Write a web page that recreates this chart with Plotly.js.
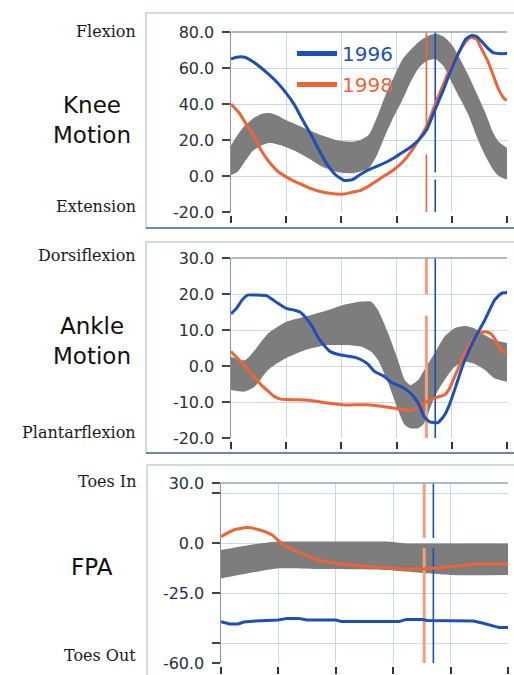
<!DOCTYPE html>
<html><head><meta charset="utf-8">
<script src="https://cdn.plot.ly/plotly-3.0.1.min.js"></script>
<style>html,body{margin:0;padding:0;background:#fff;}#chart{width:514px;height:675px;}</style>
</head><body><div id="chart"></div>
<script>
// ---------------- DATA (percent of gait cycle vs. degrees) ----------------
const years = ['1996', '1998'];
const xTicks = [0, 20, 40, 60, 80, 100];
const xGrid = [20, 40, 60, 80];

// Knee
const kneeRange = [-20, 80];
const kneeTicks = [-20, 0, 20, 40, 60, 80];
const kneeTickText = ['-20.0', '0.0', '20.0', '40.0', '60.0', '80.0'];
const kneeGrid = [0, 20, 40, 60];
const kneeBlueX = [0, 2, 5, 8, 11, 14, 17, 20, 23, 26, 29, 32, 35, 38, 41, 44, 47, 50, 53, 56, 59, 62, 65, 68, 71, 74, 77, 80, 83, 85, 87, 89, 91, 93, 95, 97, 100];
const kneeBlueY = [65, 66, 66, 63.5, 60, 56, 51.5, 46, 39.5, 31, 23, 14, 6, 0.5, -2.5, -2, 1, 3.5, 5.5, 7.5, 10, 13, 16, 20, 26, 37, 48, 60, 70, 76, 78, 77.5, 74.5, 71, 68.5, 68, 68];
const kneeOrangeX = [0, 3, 5, 8, 11, 14, 17, 20, 23, 26, 29, 32, 35, 38, 41, 44, 47, 50, 53, 56, 59, 62, 65, 68, 71, 74, 77, 80, 83, 85, 87, 89, 91, 93, 95, 97, 99, 100];
const kneeOrangeY = [40, 35, 30, 23, 14, 7.5, 2.5, -0.5, -3, -5, -7, -8.5, -9.5, -10, -10, -9, -8, -5.5, -2.5, 0.5, 3.5, 7.5, 13, 20, 28, 40, 51, 62, 70, 74.5, 77, 76, 70, 64, 56, 48, 43, 42];
const kneeBandX = [0, 2.5, 5, 8, 11, 14, 17, 20, 23, 26, 29, 32, 35, 38, 41, 44, 47, 50, 53, 56, 59, 62, 65, 68, 71, 74, 77, 80, 83, 86, 89, 92, 95, 97, 100];
const kneeBandLo = [0.5, 2.5, 8, 14, 17, 18.3, 17.5, 16, 14, 11.7, 9, 6, 4, 2.4, 1.7, 1.5, 2.5, 4.4, 12, 23, 33, 42, 52, 60, 64, 65, 61, 52, 43, 34, 22, 11.7, 3.5, 0, -2];
const kneeBandHi = [17, 23, 28, 32, 34.5, 35, 33.5, 31, 29, 27, 25, 23, 21.5, 20, 19.3, 19, 20, 23, 33, 45, 55, 64.5, 70, 74.5, 77.5, 79, 77.5, 73, 65, 56, 46, 35.7, 24, 19, 15.5];
const kneeGap1996 = [-2, 2];
const kneeGap1998 = [12, 26];

// Ankle
const ankleRange = [-20, 30];
const ankleTicks = [-20, -10, 0, 10, 20, 30];
const ankleTickText = ['-20.0', '-10.0', '0.0', '10.0', '20.0', '30.0'];
const ankleGrid = [-10, 0, 10, 20];
const ankleBlueX = [0, 2, 4, 6, 9, 13, 15, 17, 20, 23, 25, 27, 29, 31.5, 34, 36, 39, 42, 45, 47, 49.6, 52, 55.7, 58, 61.6, 65, 67.8, 70, 72, 75, 77.4, 79, 81, 83, 84.7, 88, 92, 95.5, 98, 100];
const ankleBlueY = [14.5, 16, 18.3, 19.7, 19.7, 19.5, 18.5, 17.4, 16, 15.5, 15, 13.5, 11.5, 8, 5.5, 4, 3.2, 2.8, 2.4, 1.8, 0.5, -1.5, -3, -4.5, -5.7, -7.5, -10.3, -14, -15.5, -15.7, -13.6, -11, -6.7, -2, 1.6, 7.2, 12.8, 18.3, 20.2, 20.4];
const ankleOrangeX = [0, 2.5, 5, 8, 11, 13.5, 15.8, 18, 20, 25, 29, 35, 41, 50.7, 55.7, 61.6, 65, 67, 69, 72, 75, 77.4, 79, 81, 83, 84.7, 88, 90, 92, 94, 95.5, 98, 100];
const ankleOrangeY = [4, 2, 0, -2.7, -5.3, -7, -8.5, -9.2, -9.3, -9.4, -9.6, -10.3, -10.8, -10.8, -11.3, -12, -12.3, -11.8, -10.8, -9.4, -8.6, -8, -6.5, -3, 0.5, 3.6, 7.7, 9, 9.5, 9, 7.7, 4.4, 3.6];
const ankleBandX = [0, 5, 8.6, 13.4, 20, 26.7, 35, 41, 47, 50.7, 53.3, 57, 60.5, 63, 65, 67.8, 70, 73.8, 77.4, 81, 84.7, 88, 92, 95.5, 100];
const ankleBandLo = [-6.7, -7.1, -5.7, -1.1, 2.2, 4.4, 5.8, 5.8, 5.4, 4, 1.6, -4.8, -12.2, -16.4, -17.3, -17.3, -15.9, -8.5, -3.9, -0.2, 1.2, 0.7, -1.1, -3.4, -4.4];
const ankleBandHi = [2.6, 1.6, 4.4, 9, 12.3, 13.7, 15.5, 17, 17.9, 17.9, 15.5, 9, 1.6, -3.9, -5.3, -3.9, -1.1, 3.6, 8.2, 10.5, 11.1, 10.5, 8.6, 7.2, 6.4];
const ankleGap1998 = [14, 20];

// Foot progression angle
const fpaRange = [-60, 30];
const fpaTicks = [-60, -50, -25, 0, 25, 30];
const fpaTickText = ['-60.0', '', '-25.0', '0.0', '', '30.0'];
const fpaGrid = [-50, -25, 0, 25];
const fpaBlueX = [0, 3, 6, 8, 12, 20, 23, 27, 30, 40, 42, 62, 64.6, 70, 72, 88, 91, 94, 97, 100];
const fpaBlueY = [-39.3, -40.5, -40.5, -39.5, -39, -38.5, -37.7, -37.7, -38.5, -38.5, -39.3, -39.3, -38.2, -38.3, -38.8, -39, -40, -41.3, -42.3, -42.3];
const fpaOrangeX = [0, 4.4, 9, 13.6, 17.8, 21.9, 27.7, 33.6, 39.4, 45, 51, 59, 68.5, 75, 80, 89.5, 100];
const fpaOrangeY = [3.2, 6.5, 7.7, 6.5, 4, -1, -5, -8.5, -10, -11, -11.8, -12.7, -13, -12.5, -11.8, -10.5, -10.5];
const fpaBandX = [0, 10, 19.6, 33.6, 57.6, 64.6, 80, 100];
const fpaBandLo = [-17.7, -15, -12.7, -13, -13.5, -14.3, -16, -16];
const fpaBandHi = [-3.5, -1, 0.7, 0.7, 0.7, -0.2, -0.2, -0.2];
const fpaGap = [-2.5, 2.5];

// toe-off (% gait cycle)
const toeOff1996 = 74;
const toeOff1998 = 70.8;

// ---------------- STYLE ----------------
const BLUE = '#1d4fb8', ORANGE = '#ee6434', ORANGE_PALE = '#f2a07f', GRAY = '#7d7d7d';
const GRID = '#c8dae7', AXIS = '#8198aa';
const W = 514, H = 675;
const px = v => v / W, py = v => 1 - v / H;

function band(x, lo, hi, n) {
  const xa = 'x' + (n === 1 ? '' : n), ya = 'y' + (n === 1 ? '' : n);
  return [
    {x: x, y: lo, mode: 'lines', line: {width: 0, shape: 'spline', smoothing: 0.6}, xaxis: xa, yaxis: ya, showlegend: false, hoverinfo: 'skip'},
    {x: x, y: hi, mode: 'lines', fill: 'tonexty', fillcolor: GRAY, line: {width: 0, shape: 'spline', smoothing: 0.6}, xaxis: xa, yaxis: ya, showlegend: false, hoverinfo: 'skip'}
  ];
}
function curve(x, y, color, n, shape) {
  const xa = 'x' + (n === 1 ? '' : n), ya = 'y' + (n === 1 ? '' : n);
  return {x: x, y: y, mode: 'lines', line: {color: color, width: 3, shape: shape || 'spline', smoothing: 0.5}, xaxis: xa, yaxis: ya, showlegend: false, hoverinfo: 'skip'};
}
function vline(t, range, gap, color, width, n) {
  const xa = 'x' + (n === 1 ? '' : n), ya = 'y' + (n === 1 ? '' : n);
  const xs = gap ? [t, t, null, t, t] : [t, t];
  const ys = gap ? [range[1], gap[1], null, gap[0], range[0]] : [range[1], range[0]];
  return {x: xs, y: ys, mode: 'lines', line: {color: color, width: width}, xaxis: xa, yaxis: ya, showlegend: false, hoverinfo: 'skip', connectgaps: false};
}

const data = [].concat(
  band(kneeBandX, kneeBandLo, kneeBandHi, 1),
  [vline(toeOff1998, kneeRange, kneeGap1998, ORANGE, 1.6, 1), vline(toeOff1996, kneeRange, kneeGap1996, BLUE, 1.6, 1)],
  [curve(kneeOrangeX, kneeOrangeY, ORANGE, 1), curve(kneeBlueX, kneeBlueY, BLUE, 1)],
  band(ankleBandX, ankleBandLo, ankleBandHi, 2),
  [vline(toeOff1998, ankleRange, ankleGap1998, ORANGE_PALE, 3, 2), vline(toeOff1996, ankleRange, null, BLUE, 1.6, 2)],
  [curve(ankleOrangeX, ankleOrangeY, ORANGE, 2), curve(ankleBlueX, ankleBlueY, BLUE, 2)],
  band(fpaBandX, fpaBandLo, fpaBandHi, 3),
  [vline(toeOff1998, fpaRange, fpaGap, ORANGE_PALE, 3, 3), vline(toeOff1996, fpaRange, fpaGap, BLUE, 1.6, 3)],
  [curve(fpaOrangeX, fpaOrangeY, ORANGE, 3), curve(fpaBlueX, fpaBlueY, BLUE, 3, 'linear')],
  // legend entries (no data points, legend only)
  [
    {x: [null], y: [null], mode: 'lines', name: '<span style="color:' + BLUE + '">' + years[0] + '</span>', line: {color: BLUE, width: 5}, xaxis: 'x', yaxis: 'y', legendgroup: 'a', showlegend: true},
    {x: [null], y: [null], mode: 'lines', name: '<span style="color:' + ORANGE + '">' + years[1] + '</span>', line: {color: ORANGE, width: 5}, xaxis: 'x', yaxis: 'y', legendgroup: 'b', showlegend: true}
  ]
);

const tickFont = {family: 'DejaVu Sans', size: 16, color: '#25313b'};
function xAxis(domain, pos) {
  return {domain: domain, anchor: 'free', position: pos, range: [0, 100], tickmode: 'array', tickvals: xTicks,
    showticklabels: false, ticks: 'outside', ticklen: 7, tickwidth: 2, tickcolor: '#333',
    showgrid: false, zeroline: false, showline: false, fixedrange: true,
    minor: {tickmode: 'array', tickvals: xGrid, showgrid: true, gridcolor: GRID, gridwidth: 1, ticks: ''}};
}
function yAxis(domain, anchor, range, tv, tt, grid) {
  return {domain: domain, anchor: anchor, range: range, tickmode: 'array', tickvals: tv, ticktext: tt,
    ticks: 'outside', ticklen: 8, tickwidth: 1.5, tickcolor: '#444', ticklabelstandoff: 4,
    showline: true, linecolor: AXIS, linewidth: 1.5, showgrid: false, zeroline: false, tickfont: tickFont, fixedrange: true,
    minor: {tickmode: 'array', tickvals: grid, showgrid: true, gridcolor: GRID, gridwidth: 1, ticks: ''}};
}

const xd12 = [px(231), px(507)], xd3 = [px(221), px(508)];
const layout = {
  width: W, height: H, margin: {l: 0, r: 0, t: 0, b: 0}, paper_bgcolor: '#fff', plot_bgcolor: 'rgba(0,0,0,0)',
  showlegend: true,
  legend: {x: px(292), y: py(34), xanchor: 'left', yanchor: 'top', bgcolor: 'rgba(0,0,0,0)', borderwidth: 0,
    font: {family: 'DejaVu Sans', size: 20}, itemwidth: 40, tracegroupgap: 2, traceorder: 'grouped'},
  xaxis: xAxis(xd12, py(215)),
  yaxis: yAxis([py(212), py(32)], 'x', kneeRange, kneeTicks, kneeTickText, kneeGrid),
  xaxis2: xAxis(xd12, py(441)),
  yaxis2: yAxis([py(438), py(258)], 'x2', ankleRange, ankleTicks, ankleTickText, ankleGrid),
  xaxis3: xAxis(xd3, py(666)),
  yaxis3: yAxis([py(663), py(483)], 'x3', fpaRange, fpaTicks, fpaTickText, fpaGrid),
  shapes: [
    {type: 'rect', xref: 'paper', yref: 'paper', x0: px(146), x1: 1.02, y0: py(228), y1: py(13), line: {color: '#c2d0da', width: 1.5}, layer: 'below'},
    {type: 'line', xref: 'paper', yref: 'paper', x0: px(146), x1: 1.02, y0: py(228), y1: py(228), line: {color: '#7089a0', width: 2}},
    {type: 'rect', xref: 'paper', yref: 'paper', x0: px(146), x1: 1.02, y0: py(453), y1: py(242), line: {color: '#c2d0da', width: 1.5}, layer: 'below'},
    {type: 'line', xref: 'paper', yref: 'paper', x0: px(146), x1: 1.02, y0: py(453), y1: py(453), line: {color: '#7089a0', width: 2}},
    {type: 'rect', xref: 'paper', yref: 'paper', x0: px(147), x1: 1.02, y0: -0.02, y1: py(465), line: {color: '#c2d0da', width: 1.5}, layer: 'below'},
    {type: 'line', xref: 'x domain', yref: 'y domain', x0: 0, x1: 1, y0: 1, y1: 1, line: {color: '#8ea3b3', width: 1.5}},
    {type: 'line', xref: 'x2 domain', yref: 'y2 domain', x0: 0, x1: 1, y0: 1, y1: 1, line: {color: '#8ea3b3', width: 1.5}},
    {type: 'line', xref: 'x3 domain', yref: 'y3 domain', x0: 0, x1: 1, y0: 1, y1: 1, line: {color: '#8ea3b3', width: 1.5}}
  ],
  annotations: []
};

const serif = {family: 'DejaVu Serif', size: 16, color: '#1a1a1a'};
const big = {family: 'DejaVu Sans', size: 23, color: '#111'};
[['Flexion', 31], ['Extension', 207], ['Dorsiflexion', 256], ['Plantarflexion', 432], ['Toes In', 481], ['Toes Out', 655]].forEach(function (d) {
  layout.annotations.push({text: d[0], xref: 'paper', yref: 'paper', x: px(138), y: py(d[1]), xanchor: 'right', yanchor: 'middle', showarrow: false, font: serif});
});
[['Knee<br>Motion', 120], ['Ankle<br>Motion', 341], ['FPA', 567]].forEach(function (d) {
  layout.annotations.push({text: d[0], xref: 'paper', yref: 'paper', x: px(92), y: py(d[1]), xanchor: 'center', yanchor: 'middle', showarrow: false, font: big, align: 'center'});
});

Plotly.newPlot('chart', data, layout, {staticPlot: true, displayModeBar: false});
</script></body></html>
